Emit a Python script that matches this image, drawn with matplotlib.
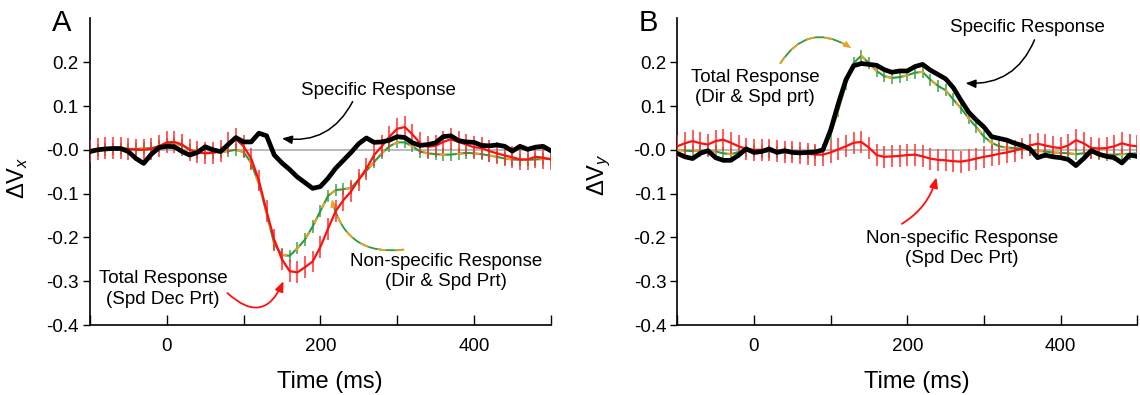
import numpy as np
import matplotlib
matplotlib.use("Agg")
import matplotlib.pyplot as plt

plt.rcParams["font.family"] = ["Liberation Sans", "DejaVu Sans"]
plt.rcParams["mathtext.fontset"] = "custom"
plt.rcParams["mathtext.rm"] = "Liberation Sans"
plt.rcParams["mathtext.it"] = "Liberation Sans:italic"
plt.rcParams["axes.unicode_minus"] = False

# time axis (ms), one sample every 10 ms
time_ms = list(range(-100, 501, 10))

# panel A: horizontal velocity change
specific_x = [-0.004, 0.000, 0.002, 0.003, 0.003, -0.004, -0.020, -0.031, -0.010, 0.005,
              0.008, 0.007, -0.004, -0.012, -0.006, 0.007, 0.000, -0.004, 0.012, 0.028,
              0.018, 0.018, 0.038, 0.032, -0.012, -0.030, -0.045, -0.062, -0.075, -0.088,
              -0.084, -0.065, -0.042, -0.024, -0.006, 0.014, 0.027, 0.017, 0.018, 0.022,
              0.030, 0.028, 0.016, 0.010, 0.012, 0.016, 0.030, 0.032, 0.021, 0.018,
              0.017, 0.010, 0.009, 0.011, 0.008, -0.003, 0.008, 0.001, 0.006, 0.008,
              -0.002]
total_x = [-0.003, 0.002, 0.004, 0.004, 0.004, 0.002, 0.000, 0.000, 0.002, 0.008,
           0.017, 0.018, 0.012, 0.000, -0.006, -0.008, -0.007, -0.002, 0.015, 0.025,
           0.008, -0.020, -0.070, -0.140, -0.205, -0.250, -0.277, -0.280, -0.268, -0.255,
           -0.222, -0.180, -0.140, -0.115, -0.095, -0.068, -0.043, -0.012, 0.008, 0.030,
           0.048, 0.052, 0.035, 0.015, 0.007, 0.009, 0.018, 0.024, 0.018, 0.012,
           0.006, 0.004, -0.003, -0.008, -0.013, -0.017, -0.022, -0.022, -0.016, -0.018,
           -0.022]
nonspec_x = [0.000, 0.000, 0.001, 0.002, 0.002, 0.002, 0.002, 0.003, 0.004, 0.008,
             0.013, 0.015, 0.010, 0.000, -0.006, -0.007, -0.006, -0.005, -0.003, 0.000,
             -0.005, -0.030, -0.078, -0.145, -0.215, -0.240, -0.242, -0.225, -0.205, -0.175,
             -0.140, -0.105, -0.092, -0.090, -0.087, -0.068, -0.048, -0.028, -0.008, 0.008,
             0.017, 0.017, 0.008, -0.004, -0.008, -0.010, -0.011, -0.011, -0.009, -0.007,
             -0.008, -0.010, -0.013, -0.016, -0.020, -0.022, -0.023, -0.023, -0.022, -0.021,
             -0.020]

# panel B: vertical velocity change
specific_y = [-0.008, -0.016, -0.020, -0.008, -0.002, -0.018, -0.024, -0.024, -0.012, 0.002,
              -0.006, -0.004, 0.002, -0.006, -0.002, -0.006, -0.007, -0.006, -0.005, 0.000,
              0.045, 0.105, 0.160, 0.192, 0.197, 0.195, 0.193, 0.183, 0.177, 0.180,
              0.180, 0.190, 0.195, 0.182, 0.172, 0.162, 0.142, 0.113, 0.086, 0.068,
              0.052, 0.030, 0.026, 0.022, 0.015, 0.010, 0.002, -0.018, -0.012, -0.016,
              -0.018, -0.022, -0.036, -0.020, -0.002, -0.010, -0.015, -0.018, -0.030, -0.012,
              -0.015]
total_y = [0.000, -0.002, -0.003, -0.002, -0.002, -0.004, -0.008, -0.010, -0.005, -0.002,
           -0.003, -0.004, -0.004, -0.005, -0.006, -0.006, -0.007, -0.007, -0.006, -0.003,
           0.035, 0.090, 0.150, 0.198, 0.215, 0.198, 0.180, 0.168, 0.164, 0.166,
           0.170, 0.176, 0.178, 0.160, 0.146, 0.136, 0.115, 0.095, 0.072, 0.052,
           0.030, 0.016, 0.008, 0.005, 0.004, 0.003, 0.000, -0.002, -0.004, -0.006,
           -0.007, -0.008, -0.010, -0.008, -0.006, -0.010, -0.011, -0.011, -0.010, -0.009,
           -0.008]
nonspec_y = [0.008, 0.015, 0.020, 0.015, 0.012, 0.020, 0.023, 0.016, 0.008, 0.002,
             0.000, 0.000, 0.000, -0.002, -0.004, -0.005, -0.007, -0.009, -0.011, -0.011,
             -0.006, 0.001, 0.008, 0.016, 0.018, 0.005, -0.012, -0.016, -0.015, -0.014,
             -0.012, -0.011, -0.015, -0.020, -0.023, -0.024, -0.026, -0.027, -0.024, -0.020,
             -0.016, -0.013, -0.009, -0.006, -0.002, 0.003, 0.010, 0.014, 0.010, 0.006,
             0.004, 0.010, 0.022, 0.015, 0.004, 0.003, 0.004, 0.008, 0.015, 0.010,
             0.008]

red_err = 0.025
green_err = 0.014

RED = "#ff1010"
GREEN = "#2e9a3c"
ORANGE = "#eba125"

fig = plt.figure(figsize=(11.4, 3.95), dpi=100)
axA = fig.add_axes([0.0789, 0.1772, 0.4042, 0.7762])
axB = fig.add_axes([0.5941, 0.1772, 0.4035, 0.7762])


def draw_panel(ax, green_vals, red_vals, black_vals, ylabel):
    t = np.array(time_ms)
    ax.axhline(0, color="#b4b4b4", lw=1.3, zorder=1)
    ax.errorbar(t, green_vals, yerr=green_err, fmt="none", ecolor="#3fa34d",
                elinewidth=1.1, zorder=2)
    ax.plot(t, green_vals, color=GREEN, lw=1.5, zorder=3)
    ax.plot(t, green_vals, color=ORANGE, lw=1.5, ls=(0, (3, 5)), zorder=3)
    ax.errorbar(t, red_vals, yerr=red_err, fmt="none", ecolor="#ff3030",
                elinewidth=1.1, zorder=4)
    ax.plot(t, red_vals, color=RED, lw=1.6, zorder=5)
    ax.plot(t, black_vals, color="black", lw=3.4, zorder=6,
            solid_joinstyle="round", solid_capstyle="round")

    ax.set_xlim(-100, 500)
    ax.set_ylim(-0.4, 0.3)
    ax.set_yticks(np.arange(-0.4, 0.21, 0.1))
    ax.set_yticklabels(["%.1f" % v for v in np.arange(-0.4, 0.21, 0.1)])
    ax.set_xticks([0, 200, 400])
    ax.set_xticks([-100, 100, 300, 500], minor=True)
    ax.tick_params(axis="x", which="both", direction="in", length=7, width=1,
                   labelsize=13.5, pad=9)
    ax.tick_params(axis="y", direction="out", length=5, width=1,
                   labelsize=13.5, pad=3)
    for s in ["top", "right"]:
        ax.spines[s].set_visible(False)
    ax.spines["left"].set_linewidth(1.2)
    ax.spines["bottom"].set_linewidth(1.2)
    ax.set_xlabel("Time (ms)", fontsize=17)
    ax.xaxis.set_label_coords(0.52, -0.15)
    ax.set_ylabel(ylabel, fontsize=17)


draw_panel(axA, nonspec_x, total_x, specific_x, r"$\Delta\mathrm{V}_{x}$")
draw_panel(axB, total_y, nonspec_y, specific_y, r"$\Delta\mathrm{V}_{y}$")
axA.yaxis.set_label_coords(-0.13, 0.48)
axB.yaxis.set_label_coords(-0.14, 0.49)


def two_tone_arrow(ax, tail, head, rad):
    cs = "arc3,rad=%.2f" % rad
    ax.annotate("", xy=head, xytext=tail,
                arrowprops=dict(arrowstyle="-", color=GREEN, lw=1.3,
                                connectionstyle=cs, shrinkA=0, shrinkB=4))
    ax.annotate("", xy=head, xytext=tail,
                arrowprops=dict(arrowstyle="-", color=ORANGE, lw=1.3, ls=(0, (4, 6)),
                                connectionstyle=cs, shrinkA=0, shrinkB=4))
    ax.annotate("", xy=head, xytext=tail,
                arrowprops=dict(arrowstyle="-|>,head_length=0.6,head_width=0.25",
                                color=ORANGE, lw=0, connectionstyle=cs,
                                shrinkA=0, shrinkB=0))


fs = 13.5
# panel A labels
axA.text(275, 0.135, "Specific Response", fontsize=fs, ha="center", va="center")
axA.annotate("", xy=(150, 0.026), xytext=(242, 0.11),
             arrowprops=dict(arrowstyle="-|>,head_length=0.6,head_width=0.25",
                             color="black", lw=1.1,
                             connectionstyle="arc3,rad=-0.35", shrinkA=0, shrinkB=0))
axA.text(364, -0.278, "Non-specific Response\n(Dir & Spd Prt)", fontsize=fs,
         ha="center", va="center", linespacing=1.25)
two_tone_arrow(axA, (308, -0.228), (215, -0.113), -0.45)
axA.text(-5, -0.318, "Total Response\n(Spd Dec Prt)", fontsize=fs,
         ha="center", va="center", linespacing=1.25)
axA.annotate("", xy=(152, -0.300), xytext=(79, -0.327),
             arrowprops=dict(arrowstyle="-|>,head_length=0.6,head_width=0.25",
                             color=RED, lw=1.3,
                             connectionstyle="arc3,rad=0.7", shrinkA=0, shrinkB=0))

# panel B labels
axB.text(357, 0.28, "Specific Response", fontsize=fs, ha="center", va="center")
axB.annotate("", xy=(276, 0.152), xytext=(366, 0.251),
             arrowprops=dict(arrowstyle="-|>,head_length=0.6,head_width=0.25",
                             color="black", lw=1.1,
                             connectionstyle="arc3,rad=-0.35", shrinkA=0, shrinkB=0))
axB.text(1.4, 0.143, "Total Response\n(Dir & Spd prt)", fontsize=fs,
         ha="center", va="center", linespacing=1.25)
two_tone_arrow(axB, (34.6, 0.198), (127, 0.232), -0.5)
axB.text(271.6, -0.226, "Non-specific Response\n(Spd Dec Prt)", fontsize=fs,
         ha="center", va="center", linespacing=1.25)
axB.annotate("", xy=(238, -0.063), xytext=(193, -0.169),
             arrowprops=dict(arrowstyle="-|>,head_length=0.6,head_width=0.25",
                             color=RED, lw=1.3,
                             connectionstyle="arc3,rad=0.2", shrinkA=0, shrinkB=0))

fig.text(61.7 / 1140, 1 - 23.3 / 395, "A", fontsize=21, ha="center", va="center")
fig.text(647.9 / 1140, 1 - 23.3 / 395, "B", fontsize=21, ha="center", va="center")

fig.savefig("out.png", dpi=100)
